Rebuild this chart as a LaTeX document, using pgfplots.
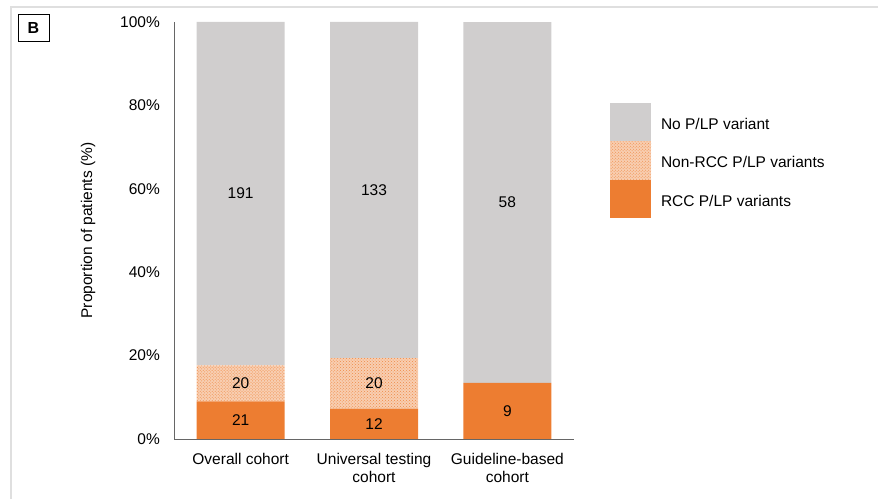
\documentclass[border=0pt]{standalone}
\usepackage{pgfplots}
\pgfplotsset{compat=1.18}
\usepackage{pgfplotstable}
\usepackage{fontspec}
\setmainfont{Liberation Sans}
\usetikzlibrary{patterns}

\definecolor{nopl}{HTML}{D0CECE}
\definecolor{rcc}{HTML}{ED7D31}
\colorlet{nonrccfill}{rcc!38!white}
\colorlet{nonrccdots}{rcc!90!white}

% patient counts per cohort
\pgfplotstableread{
x rcc non none total
0 21  20  191  232
1 12  20  133  165
2  9   0   58   67
}\cohorts

\pgfplotsset{
  panel/.style={
    at={(174bp,60bp)}, anchor=south west,
    scale only axis, width=400bp, height=417bp,
    xmin=-0.5, xmax=2.5, ymin=0, ymax=100,
  },
}

\begin{document}
\fontsize{15.5bp}{18bp}\selectfont
\begin{tikzpicture}[font=\fontsize{15.5bp}{18bp}\selectfont]
\useasboundingbox (0,0) rectangle (878bp,499bp);
\draw[gray!25, line width=1.5bp] (10.75bp,0) -- (10.75bp,492bp) -- (878bp,492bp);
\node[draw=black, line width=1bp, minimum width=31bp, minimum height=27bp,
      inner sep=0pt, font=\fontsize{16bp}{18bp}\selectfont\bfseries] at (33.5bp,470.5bp) {B};

\begin{axis}[panel,
  ybar stacked, bar width=88bp,
  axis lines*=left,
  axis line style={draw=gray!80!black, line width=0.8bp, -},
  major tick length=0pt,
  xtick={0,1,2},
  xticklabels={Overall cohort, {Universal testing\\cohort}, {Guideline-based\\cohort}},
  xticklabel style={align=center, inner sep=0pt, yshift=-14bp},
  ytick={0,20,...,100},
  yticklabel={\pgfmathprintnumber{\tick}\%},
  yticklabel style={inner sep=0pt, xshift=-14bp},
  /pgf/number format/assume math mode=true,
  ylabel={Proportion of patients (\%)},
  every axis y label/.style={at={(axis description cs:-0.215,0.5)}, rotate=90, anchor=center},
  legend style={at={(axis description cs:1.09,0.806)}, anchor=north west,
    draw=none, inner sep=0pt, outer sep=0pt, row sep=0pt, column sep=10bp,
    nodes={inner sep=0pt, anchor=west}},
  legend cell align=left,
  legend image code/.code={\fill[#1] (0bp,-16.75bp) rectangle (41bp,21.75bp);},
  reverse legend,
]
\addplot[fill=rcc, draw=none]
  table[x=x, y expr={\thisrow{rcc}/\thisrow{total}*100}] {\cohorts};
\addlegendentry{RCC P/LP variants}
\addplot[fill=nonrccfill, draw=none,
  postaction={pattern=crosshatch dots, pattern color=nonrccdots}]
  table[x=x, y expr={\thisrow{non}/\thisrow{total}*100}] {\cohorts};
\addlegendentry{Non-RCC P/LP variants}
\addplot[fill=nopl, draw=none]
  table[x=x, y expr={\thisrow{none}/\thisrow{total}*100}] {\cohorts};
\addlegendentry{No P/LP variant}
\end{axis}

% counts written at the middle of each segment
\begin{axis}[panel, hide axis, clip=false,
  nodes near coords, point meta=explicit symbolic,
  nodes near coords style={anchor=center, inner sep=0pt},
]
\addplot[draw=none, mark=none]
  table[x=x, y expr={0.5*\thisrow{rcc}/\thisrow{total}*100}, meta=rcc] {\cohorts};
\addplot[draw=none, mark=none, skip coords between index={2}{3}]
  table[x=x, y expr={(\thisrow{rcc}+0.5*\thisrow{non})/\thisrow{total}*100}, meta=non] {\cohorts};
\addplot[draw=none, mark=none]
  table[x=x, y expr={(\thisrow{rcc}+\thisrow{non}+0.5*\thisrow{none})/\thisrow{total}*100}, meta=none] {\cohorts};
\end{axis}
\end{tikzpicture}
\end{document}
